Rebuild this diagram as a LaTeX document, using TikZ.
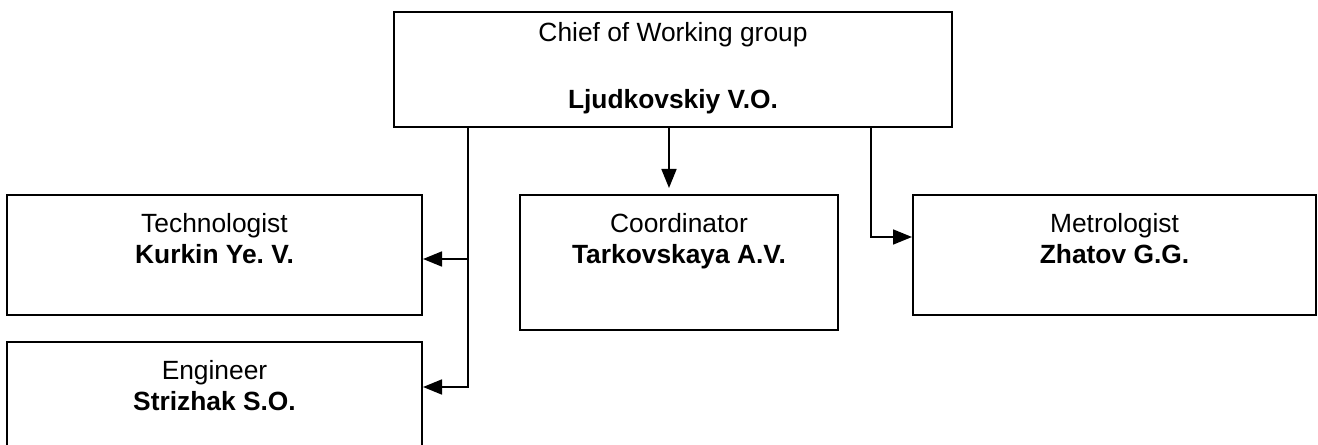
\documentclass[tikz,border=0pt]{standalone}
\usepackage{fontspec}
\setmainfont{Liberation Sans}
\frenchspacing
\usetikzlibrary{arrows.meta}

\tikzset{
  post/.style={draw, line width=1.2pt, inner sep=0pt},
  caption/.style={anchor=north, align=center, inner sep=0pt, font=\fontsize{15}{17.6}\selectfont},
  link/.style={line width=1pt},
  arr/.style={link, -{Triangle[length=0.38cm, width=0.3cm]}}
}

\begin{document}
\begin{tikzpicture}[x=0.02cm, y=-0.02cm]
  \useasboundingbox (0,0) rectangle (1318,445);
  \clip (0,0) rectangle (1318,445);

  % boxes
  \node[post, minimum width=11.16cm, minimum height=2.3cm] (chief) at (673,69.5) {};
  \node[post, minimum width=8.3cm, minimum height=2.4cm] (tech) at (214.5,255) {};
  \node[post, minimum width=8.3cm, minimum height=2.56cm] (eng) at (214.5,406) {};
  \node[post, minimum width=6.36cm, minimum height=2.7cm] (coord) at (679,262.5) {};
  \node[post, minimum width=8.06cm, minimum height=2.4cm] (metro) at (1114.5,255) {};

  % texts
  \node[caption] (chieftxt) at (673,22) {Chief of Working group\\[0.72cm]\textbf{Ljudkovskiy V.O.}};
  \node[caption] (techtxt) at (214.5,213) {Technologist\\\textbf{Kurkin Ye. V.}};
  \node[caption] (engtxt) at (214.5,360) {Engineer\\\textbf{Strizhak S.O.}};
  \node[caption] (coordtxt) at (679,213) {Coordinator\\\textbf{Tarkovskaya A.V.}};
  \node[caption] (metrotxt) at (1114.5,213) {Metrologist\\\textbf{Zhatov G.G.}};

  % connectors
  \coordinate (lsplit) at (468,259);
  \coordinate (lend) at (468,387);
  \coordinate (mtip) at (669,188);
  \coordinate (rbend) at (871,237);

  \draw[arr] (chief.south -| lend) -- (lend) -- (lend -| eng.east);
  \draw[arr] (lsplit) -- (lsplit -| tech.east);
  \draw[arr] (chief.south -| mtip) -- (mtip);
  \draw[arr] (chief.south -| rbend) -- (rbend) -- (rbend -| metro.west);
\end{tikzpicture}
\end{document}
